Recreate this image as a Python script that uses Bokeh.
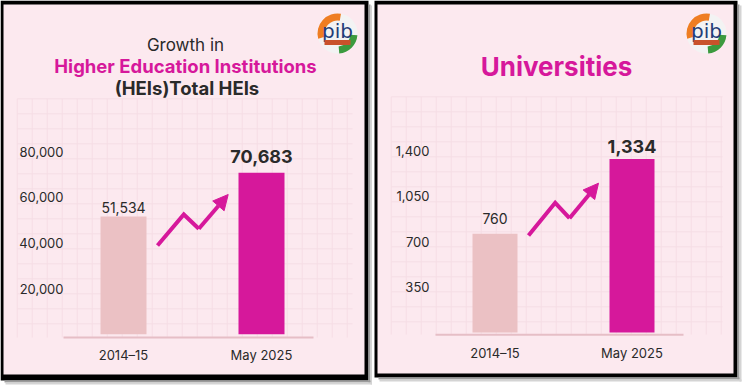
import numpy as np
from bokeh.plotting import figure
from bokeh.models import (Range1d, FixedTicker, NumeralTickFormatter, BoxAnnotation,
                          Label, Arrow, NormalHead, ColumnDataSource)
from bokeh.layouts import row
from bokeh.core.properties import value
from bokeh.embed import file_html
from bokeh.resources import INLINE

# ---------------- data ----------------
categories = ["2014–15", "May 2025"]
hei_values = [51534, 70683]
uni_values = [760, 1334]
hei_ticks = [20000, 40000, 60000, 80000]
uni_ticks = [350, 700, 1050, 1400]

# ---------------- style ----------------
PINK = "#fce9ef"
GRID = "#f6dde5"
BAR_LIGHT = "#ebc1c4"
MAGENTA = "#d6189b"
DARK = "#2a2a2a"
BLACK = "#000000"
SH1 = "#9c9c9c"
SH2 = "#d4d4d4"
BASE = "#e6bec6"
FONT = "Inter"
H = 386


def px2x(px, c):
    return (px - c["c0"]) / (c["c1"] - c["c0"])


def py2y(py, c):
    return (c["zero"] - py) / c["k"]


def make_panel(c, values, ticks, titles, lab_off, lab_size, lab_style):
    W, x0 = c["W"], c["x0"]
    p = figure(width=W, height=H, output_backend="svg", toolbar_location=None,
               x_range=Range1d(px2x(x0, c), px2x(x0 + W, c)),
               y_range=Range1d(py2y(H, c), py2y(0, c)),
               min_border_left=0, min_border_right=0,
               min_border_top=0, min_border_bottom=0)
    p.border_fill_color = "white"
    p.background_fill_color = "white"
    p.outline_line_color = None
    p.grid.visible = False

    # panel card (canvas units, top-down)
    for (l, r, t, b, col) in c["boxes"]:
        p.add_layout(BoxAnnotation(left=l - x0, right=r - x0, top=t, bottom=b,
                                   left_units="canvas", right_units="canvas",
                                   top_units="canvas", bottom_units="canvas",
                                   fill_color=col, fill_alpha=1.0, line_color=None,
                                   level="underlay"))

    # faint background grid
    gx = np.arange(c["gx0"], c["gx1"], 15.0)
    gy = np.arange(c["gy0"], c["gy1"], 15.0)
    p.segment(x0=[px2x(v, c) for v in gx], x1=[px2x(v, c) for v in gx],
              y0=py2y(c["gy0"], c), y1=py2y(c["gy1"], c), line_color=GRID, line_width=1)
    p.segment(x0=px2x(c["gx0"], c), x1=px2x(c["gx1"], c),
              y0=[py2y(v, c) for v in gy], y1=[py2y(v, c) for v in gy],
              line_color=GRID, line_width=1)

    # baseline
    bl = c["base"]
    p.segment(x0=[px2x(bl[0], c)], x1=[px2x(bl[1], c)], y0=[py2y(bl[2], c)], y1=[py2y(bl[2], c)],
              line_color=BASE, line_width=2)

    idx = list(range(len(categories)))
    src = ColumnDataSource(dict(
        x=idx, top=values, cat=categories,
        color=[BAR_LIGHT, MAGENTA],
        label=[f"{v:,}" for v in values],
        off=lab_off, size=lab_size, style=lab_style))
    p.vbar(x="x", top="top", bottom=0, width=c["bw"] / (c["c1"] - c["c0"]),
           fill_color="color", line_color=None, source=src)
    p.text(x="x", y="top", text="label", y_offset="off", text_font_size="size",
           text_font_style="style", text_font=value(FONT), text_color=DARK,
           text_align="center", text_baseline="middle", source=src)

    # zigzag arrow
    a = c["arrow"]
    p.line(x=[px2x(q[0], c) for q in a[:3]], y=[py2y(q[1], c) for q in a[:3]],
           line_color=MAGENTA, line_width=4, line_join="miter")
    p.add_layout(Arrow(end=NormalHead(size=15, fill_color=MAGENTA, line_color=MAGENTA),
                       x_start=px2x(a[2][0], c), y_start=py2y(a[2][1], c),
                       x_end=px2x(a[3][0], c), y_end=py2y(a[3][1], c),
                       line_color=MAGENTA, line_width=4))

    # titles
    for (txt, tx, ty, fs, st, col) in titles:
        p.add_layout(Label(x=px2x(tx, c), y=py2y(ty, c), text=txt, text_align="center",
                           text_baseline="middle", text_font=FONT, text_font_size=f"{fs}px",
                           text_font_style=st, text_color=col))

    # PIB logo badge
    lgx, lgy = c["logo"]
    lx, ly = px2x(lgx, c), py2y(lgy, c)
    p.circle(x=[lx], y=[ly], radius=20, radius_units="screen", fill_color="#f3f3f3", line_color=None)
    p.annular_wedge(x=[lx], y=[ly], inner_radius=13, outer_radius=20,
                    inner_radius_units="screen", outer_radius_units="screen",
                    start_angle=80, end_angle=195, start_angle_units="deg", end_angle_units="deg",
                    fill_color="#ef7d22", line_color=None)
    p.annular_wedge(x=[lx], y=[ly], inner_radius=13, outer_radius=20,
                    inner_radius_units="screen", outer_radius_units="screen",
                    start_angle=275, end_angle=355, start_angle_units="deg", end_angle_units="deg",
                    fill_color="#3c9a3e", line_color=None)
    p.text(x=[lx], y=[py2y(lgy - 3, c)], text=["pib"], text_font=value("DejaVu Sans"),
           text_font_size="20px", text_color="#1f3d78", text_align="center",
           text_baseline="middle")
    p.rect(x=[lx], y=[py2y(lgy + 9, c)], width=26, height=5, width_units="screen",
           height_units="screen", fill_color="#c9522b", line_color=None)

    # axes (drawn at fixed locations inside the card)
    ya = p.yaxis[0]
    ya.fixed_location = px2x(c["ylab"], c)
    ya.ticker = FixedTicker(ticks=ticks)
    ya.formatter = NumeralTickFormatter(format="0,0")
    ya.axis_line_color = None
    ya.major_tick_line_color = None
    ya.minor_tick_line_color = None
    ya.major_tick_out = 0
    ya.major_tick_in = 0
    ya.minor_tick_out = 0
    ya.minor_tick_in = 0
    ya.major_label_standoff = 0
    ya.major_label_text_font = FONT
    ya.major_label_text_font_size = "13px"
    ya.major_label_text_color = DARK

    xa = p.xaxis[0]
    xa.fixed_location = py2y(c["xlab"], c)
    xa.ticker = FixedTicker(ticks=idx)
    xa.major_label_overrides = {i: cat for i, cat in zip(idx, categories)}
    xa.axis_line_color = None
    xa.major_tick_line_color = None
    xa.minor_tick_line_color = None
    xa.major_tick_out = 0
    xa.major_tick_in = 0
    xa.minor_tick_out = 0
    xa.minor_tick_in = 0
    xa.major_label_standoff = 0
    xa.major_label_text_font = FONT
    xa.major_label_text_font_size = "13px"
    xa.major_label_text_color = DARK
    return p


left_cfg = dict(
    W=372, x0=0, c0=123, c1=261, bw=46,
    zero=333.7, k=45.67 / 20000, ylab=63, xlab=346,
    boxes=[(0, 368, 0, 380, BLACK), (3, 364, 4, 374, PINK),
           (368, 370, 4, 382, SH1), (370, 372, 5, 384, SH2),
           (4, 370, 380, 382, SH1), (5, 372, 382, 384, SH2)],
    gx0=16.7, gx1=352, gy0=98.3, gy1=337,
    base=(63, 313, 337),
    arrow=[(157, 245), (183.3, 214), (198.3, 228.3), (227.7, 194)],
    logo=(337, 33),
)
right_cfg = dict(
    W=370, x0=372, c0=494.5, c1=631.5, bw=45,
    zero=332, k=45.5 / 350, ylab=429, xlab=344,
    boxes=[(374, 737, 0, 377, BLACK), (377, 733, 4, 373, PINK),
           (737, 739, 4, 379, SH1), (739, 741, 5, 381, SH2),
           (378, 739, 377, 379, SH1), (379, 741, 379, 381, SH2)],
    gx0=390.7, gx1=722, gy0=96.3, gy1=334,
    base=(435, 683, 334.3),
    arrow=[(528, 235), (554.7, 202.3), (569, 217.7), (598, 182.7)],
    logo=(706, 33),
)

left_titles = [("Growth in", 185, 44, 17, "normal", DARK),
               ("Higher Education Institutions", 185, 65.5, 18.5, "bold", MAGENTA),
               ("(HEIs)Total HEIs", 186.5, 87.5, 18.5, "bold", DARK)]
right_titles = [("Universities", 556, 65.5, 26, "bold", MAGENTA)]

p1 = make_panel(left_cfg, hei_values, hei_ticks, left_titles,
                [-9, -16], ["14px", "18px"], ["normal", "bold"])
p2 = make_panel(right_cfg, uni_values, uni_ticks, right_titles,
                [-15, -13], ["14px", "18px"], ["normal", "bold"])

layout = row(p1, p2)
open("out.html", "w").write(file_html(layout, INLINE))
